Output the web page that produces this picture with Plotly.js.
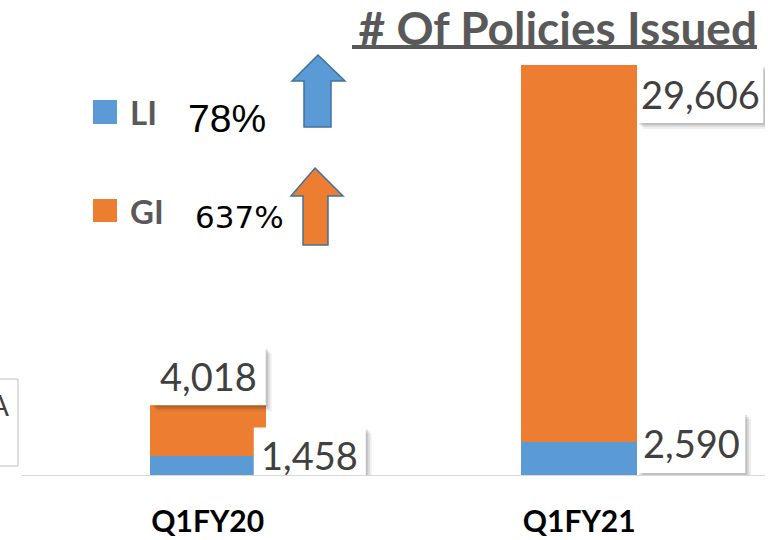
<!DOCTYPE html>
<html>
<head>
<meta charset="utf-8">
<script src="https://cdn.plot.ly/plotly-3.0.1.min.js"></script>
<style>
  html, body { margin: 0; padding: 0; background: #ffffff; }
  #chart { width: 768px; height: 540px; }
</style>
</head>
<body>
<div id="chart"></div>
<script>
// ---- data ----
const categories = ['Q1FY20', 'Q1FY21'];
const liValues = [1458, 2590];
const giValues = [4018, 29606];
const seriesNames = ['LI', 'GI'];
const growthLabels = ['78%', '637%'];
const chartTitle = '# Of Policies Issued';
const sideBoxText = 'A';

// ---- styles ----
const blue = '#5B9BD5';
const orange = '#ED7D31';
const outline = '#41719C';
const labelGray = '#404040';
const legendGray = '#595959';
const fontMain = 'Lato, "Open Sans", sans-serif';

const W = 768, H = 540, ML = 22, MR = 3, MT = 40, MB = 65;
const pw = W - ML - MR, ph = H - MT - MB;
const px = x => (x - ML) / pw;
const py = y => (H - MB - y) / ph;

function pathFrom(points) {
  return 'M' + points.map(p => px(p[0]).toFixed(5) + ',' + py(p[1]).toFixed(5)).join(' L') + ' Z';
}

const traces = [
  {
    type: 'bar', name: seriesNames[0], x: categories, y: liValues,
    marker: { color: blue, line: { width: 0 } }, hoverinfo: 'x+y+name'
  },
  {
    type: 'bar', name: seriesNames[1], x: categories, y: giValues,
    marker: { color: orange, line: { width: 0 } }, hoverinfo: 'x+y+name'
  }
];

// label box placement in pixels relative to (category centre, anchor value); y positive = up
const boxLI = [
  { x0: 46, x1: 158, y0: -26, y1: 29 },
  { x0: 58, x1: 166, y0: -31, y1: 29 }
];
const boxGI = [
  { x0: -57, x1: 58, y0: 0, y1: 58 },
  { x0: 58, x1: 184, y0: -58, y1: 0 }
];

const shapes = [];
const annotations = [];

function addLabel(i, anchorVal, value, b) {
  const common = {
    type: 'rect', xref: 'x', yref: 'y', xsizemode: 'pixel', ysizemode: 'pixel',
    xanchor: i, yanchor: anchorVal, layer: 'above'
  };
  [[6, 'rgba(0,0,0,0.06)'], [4, 'rgba(0,0,0,0.09)'], [2, 'rgba(0,0,0,0.12)']].forEach(s => {
    shapes.push(Object.assign({}, common, {
      x0: b.x0 + s[0], x1: b.x1 + s[0], y0: b.y0 - s[0], y1: b.y1 - s[0],
      fillcolor: s[1], line: { width: 0 }
    }));
  });
  shapes.push(Object.assign({}, common, {
    x0: b.x0, x1: b.x1, y0: b.y0, y1: b.y1, fillcolor: '#ffffff', line: { width: 0 }
  }));
  annotations.push({
    x: i, y: anchorVal, xref: 'x', yref: 'y', showarrow: false,
    text: value.toLocaleString('en-US'),
    xanchor: 'center', yanchor: 'middle',
    xshift: (b.x0 + b.x1) / 2, yshift: (b.y0 + b.y1) / 2,
    font: { family: fontMain, size: 38, color: labelGray }
  });
}
categories.forEach((c, i) => {
  addLabel(i, liValues[i], liValues[i], boxLI[i]);
  addLabel(i, liValues[i] + giValues[i], giValues[i], boxGI[i]);
});

// custom legend texts and growth notes
annotations.push(
  { xref: 'paper', yref: 'paper', x: px(128), y: py(112), xanchor: 'left', yanchor: 'middle', showarrow: false,
    text: seriesNames[0], font: { family: fontMain, size: 33, color: legendGray, weight: 'bold' } },
  { xref: 'paper', yref: 'paper', x: px(128), y: py(211), xanchor: 'left', yanchor: 'middle', showarrow: false,
    text: seriesNames[1], font: { family: fontMain, size: 33, color: legendGray, weight: 'bold' } },
  { xref: 'paper', yref: 'paper', x: px(186), y: py(119), xanchor: 'left', yanchor: 'middle', showarrow: false,
    text: growthLabels[0], font: { family: '"Liberation Sans", Arial, sans-serif', size: 39, color: '#000000' } },
  { xref: 'paper', yref: 'paper', x: px(193), y: py(217), xanchor: 'left', yanchor: 'middle', showarrow: false,
    text: growthLabels[1], font: { family: '"DejaVu Sans", sans-serif', size: 31, color: '#000000' } },
  { xref: 'paper', yref: 'paper', x: px(-1), y: py(405), xanchor: 'center', yanchor: 'middle', showarrow: false,
    text: sideBoxText, font: { family: fontMain, size: 28, color: labelGray } }
);

shapes.push(
  // legend squares
  { type: 'rect', xref: 'paper', yref: 'paper', x0: px(93), x1: px(117), y0: py(124), y1: py(100),
    fillcolor: blue, line: { width: 0 } },
  { type: 'rect', xref: 'paper', yref: 'paper', x0: px(93), x1: px(117), y0: py(222), y1: py(199),
    fillcolor: orange, line: { width: 0 } },
  // arrows
  { type: 'path', xref: 'paper', yref: 'paper', fillcolor: blue, line: { color: outline, width: 1.5 },
    path: pathFrom([[318, 55], [345, 81], [331, 81], [331, 127], [304, 127], [304, 81], [292, 81]]) },
  { type: 'path', xref: 'paper', yref: 'paper', fillcolor: orange, line: { color: outline, width: 1.5 },
    path: pathFrom([[315, 168], [343, 196], [328, 196], [328, 245], [303, 245], [303, 196], [291, 196]]) },
  // title underline
  { type: 'line', xref: 'paper', yref: 'paper', x0: px(352), x1: px(757), y0: py(47), y1: py(47),
    line: { color: legendGray, width: 4 } },
  // cut-off box at left
  { type: 'rect', xref: 'paper', yref: 'paper', x0: px(-2), x1: px(18), y0: py(466), y1: py(379),
    fillcolor: 'rgba(0,0,0,0)', line: { color: '#BFBFBF', width: 1 } }
);

const layout = {
  width: W, height: H,
  margin: { l: ML, r: MR, t: MT, b: MB, pad: 0 },
  paper_bgcolor: '#ffffff', plot_bgcolor: '#ffffff',
  barmode: 'stack', bargap: 0.6877,
  showlegend: false,
  title: {
    text: chartTitle, xref: 'container', yref: 'container',
    x: 757 / W, xanchor: 'right', y: 1 - 13 / H, yanchor: 'top',
    font: { family: fontMain, size: 46, color: legendGray, weight: 'bold' }
  },
  xaxis: {
    type: 'category', range: [-0.5, 1.5], showline: true, linecolor: '#D9D9D9', linewidth: 1,
    showgrid: false, zeroline: false, ticks: '', ticklabelstandoff: 20, automargin: false,
    tickfont: { family: fontMain, size: 30, color: '#000000', weight: 'bold' }
  },
  yaxis: {
    range: [0, 34160], visible: false, showgrid: false, zeroline: false, fixedrange: true
  },
  annotations: annotations,
  shapes: shapes
};

Plotly.newPlot('chart', traces, layout, { displayModeBar: false, staticPlot: true });
</script>
</body>
</html>
